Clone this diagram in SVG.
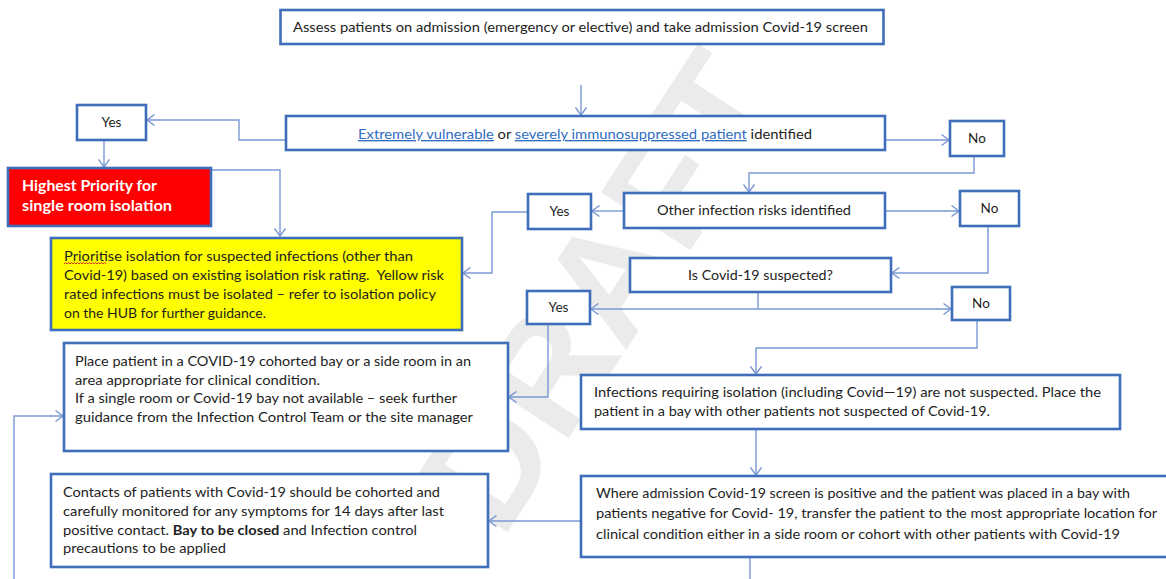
<svg xmlns="http://www.w3.org/2000/svg" width="1166" height="579" viewBox="0 0 1166 579">
<style>
.box{fill:#fff;stroke:#3e6db9;stroke-width:2.6}
.conn{fill:none;stroke:#7b98d3;stroke-width:1.4}
.t{font-family:Lato,"Liberation Sans",sans-serif;font-size:13.5px;fill:#1e1e1e}
.c{text-anchor:middle}
.lnk{fill:#2f6cbf;text-decoration:underline}
.wm{font-family:"Liberation Sans",Arial,sans-serif;font-weight:bold;font-size:155px;fill:#ebebeb}
</style>
<defs>
<marker id="ah" markerUnits="userSpaceOnUse" markerWidth="10" markerHeight="12" refX="8.5" refY="6" orient="auto">
<path d="M1,0.5 L8.5,6 L1,11.5" fill="none" stroke="#7b98d3" stroke-width="1.4"/>
</marker>
</defs>
<rect width="1166" height="579" fill="#fff"/>
<g id="watermark" transform="translate(598,290) rotate(-57)">
<text class="wm" x="0" y="56" text-anchor="middle">DRAFT</text>
</g>
<g id="connectors">
<path class="conn" d="M581,85 V115" marker-end="url(#ah)"/>
<path class="conn" d="M286,140 H239 V120 H147" marker-end="url(#ah)"/>
<path class="conn" d="M104,140 V167" marker-end="url(#ah)"/>
<path class="conn" d="M211,170 H280 V236" marker-end="url(#ah)"/>
<path class="conn" d="M885,140 H949" marker-end="url(#ah)"/>
<path class="conn" d="M974,156 V173 H749 V192" marker-end="url(#ah)"/>
<path class="conn" d="M624,211 H592" marker-end="url(#ah)"/>
<path class="conn" d="M885,211 H959" marker-end="url(#ah)"/>
<path class="conn" d="M528,212 H492 V273 H463" marker-end="url(#ah)"/>
<path class="conn" d="M988,226 V273 H892" marker-end="url(#ah)"/>
<path class="conn" d="M758,292 V309"/>
<path class="conn" d="M758,309 H591" marker-end="url(#ah)"/>
<path class="conn" d="M758,309 H951" marker-end="url(#ah)"/>
<path class="conn" d="M548,324 V397 H509" marker-end="url(#ah)"/>
<path class="conn" d="M977,320 V348 H756 V374" marker-end="url(#ah)"/>
<path class="conn" d="M756,429 V475" marker-end="url(#ah)"/>
<path class="conn" d="M581,521 H489" marker-end="url(#ah)"/>
<path class="conn" d="M750,557 V579"/>
<path class="conn" d="M14,579 V416 H63" marker-end="url(#ah)"/>
</g>
<g id="assess">
<rect class="box" x="280.5" y="10" width="603" height="34"/>
<text class="t" x="293" y="32" textLength="575" lengthAdjust="spacingAndGlyphs">Assess patients on admission (emergency or elective) and take admission Covid-19 screen</text>
</g>
<g id="vulnerable">
<rect class="box" x="286" y="116" width="599" height="34"/>
<text class="t" x="358" y="139" textLength="454" lengthAdjust="spacingAndGlyphs"><tspan class="lnk">Extremely vulnerable</tspan> or <tspan class="lnk">severely immunosuppressed patient</tspan> identified</text>
</g>
<g id="yes1">
<rect class="box" x="77" y="105" width="69" height="35"/>
<text class="t c" x="111.5" y="127">Yes</text>
</g>
<g id="highest">
<rect x="8" y="168" width="203" height="58" fill="#ff0000" stroke="#3e6db9" stroke-width="2.6"/>
<text class="t" x="22" y="191" style="font-weight:bold;font-size:15px;fill:#fff" textLength="135" lengthAdjust="spacingAndGlyphs">Highest Priority for</text>
<text class="t" x="22" y="211" style="font-weight:bold;font-size:15px;fill:#fff" textLength="150" lengthAdjust="spacingAndGlyphs">single room isolation</text>
</g>
<g id="prioritise">
<rect class="box" x="51" y="238" width="411" height="92" style="fill:#ffff00"/>
<text class="t" x="64" y="261" textLength="349" lengthAdjust="spacingAndGlyphs">Prioritise isolation for suspected infections (other than</text>
<text class="t" x="64" y="280" textLength="380" lengthAdjust="spacingAndGlyphs">Covid-19) based on existing isolation risk rating.&#160; Yellow risk</text>
<text class="t" x="64" y="299" textLength="372" lengthAdjust="spacingAndGlyphs">rated infections must be isolated – refer to isolation policy</text>
<text class="t" x="64" y="318" textLength="202" lengthAdjust="spacingAndGlyphs">on the HUB for further guidance.</text>
<path d="M64,264 l1.5,-1.5 l1.5,1.5 l1.5,-1.5 l1.5,1.5 l1.5,-1.5 l1.5,1.5 l1.5,-1.5 l1.5,1.5 l1.5,-1.5 l1.5,1.5 l1.5,-1.5 l1.5,1.5 l1.5,-1.5 l1.5,1.5 l1.5,-1.5 l1.5,1.5 l1.5,-1.5 l1.5,1.5 l1.5,-1.5 l1.5,1.5 l1.5,-1.5 l1.5,1.5 l1.5,-1.5 l1.5,1.5 l1.5,-1.5 l1.5,1.5 l1.5,-1.5 l1.5,1.5" fill="none" stroke="#e02020" stroke-width="0.9"/>
</g>
<g id="no1">
<rect class="box" x="950" y="121" width="54" height="35"/>
<text class="t c" x="977" y="143">No</text>
</g>
<g id="other">
<rect class="box" x="624" y="193" width="261" height="35"/>
<text class="t" x="657" y="215" textLength="194" lengthAdjust="spacingAndGlyphs">Other infection risks identified</text>
</g>
<g id="yes2">
<rect class="box" x="528" y="194" width="63" height="35"/>
<text class="t c" x="559.5" y="216">Yes</text>
</g>
<g id="no2">
<rect class="box" x="960" y="191" width="59" height="35"/>
<text class="t c" x="989.5" y="213">No</text>
</g>
<g id="iscovid">
<rect class="box" x="630" y="258" width="261" height="34"/>
<text class="t" x="688" y="280" textLength="145" lengthAdjust="spacingAndGlyphs">Is Covid-19 suspected?</text>
</g>
<g id="yes3">
<rect class="box" x="527" y="291" width="63" height="33"/>
<text class="t c" x="558.5" y="312">Yes</text>
</g>
<g id="no3">
<rect class="box" x="952" y="287" width="58" height="33"/>
<text class="t c" x="981" y="308">No</text>
</g>
<g id="place">
<rect class="box" x="64" y="343" width="444" height="108"/>
<text class="t" x="75" y="366" textLength="396" lengthAdjust="spacingAndGlyphs">Place patient in a COVID-19 cohorted bay or a side room in an</text>
<text class="t" x="75" y="384.5" textLength="245" lengthAdjust="spacingAndGlyphs">area appropriate for clinical condition.</text>
<text class="t" x="75" y="403" textLength="382" lengthAdjust="spacingAndGlyphs">If a single room or Covid-19 bay not available – seek further</text>
<text class="t" x="75" y="421.5" textLength="398" lengthAdjust="spacingAndGlyphs">guidance from the Infection Control Team or the site manager</text>
</g>
<g id="notsuspected">
<rect class="box" x="581" y="375" width="539" height="54"/>
<text class="t" x="594" y="397" textLength="507" lengthAdjust="spacingAndGlyphs">Infections requiring isolation (including Covid—19) are not suspected. Place the</text>
<text class="t" x="594" y="416" textLength="396" lengthAdjust="spacingAndGlyphs">patient in a bay with other patients not suspected of Covid-19.</text>
</g>
<g id="positive">
<rect class="box" x="581" y="476" width="600" height="81"/>
<text class="t" x="596" y="498" textLength="534" lengthAdjust="spacingAndGlyphs">Where admission Covid-19 screen is positive and the patient was placed in a bay with</text>
<text class="t" x="596" y="518" textLength="561" lengthAdjust="spacingAndGlyphs">patients negative for Covid- 19, transfer the patient to the most appropriate location for</text>
<text class="t" x="596" y="538.5" textLength="524" lengthAdjust="spacingAndGlyphs">clinical condition either in a side room or cohort with other patients with Covid-19</text>
</g>
<g id="contacts">
<rect class="box" x="51" y="474" width="437" height="93"/>
<text class="t" x="63" y="497" textLength="377" lengthAdjust="spacingAndGlyphs">Contacts of patients with Covid-19 should be cohorted and</text>
<text class="t" x="63" y="516" textLength="381" lengthAdjust="spacingAndGlyphs">carefully monitored for any symptoms for 14 days after last</text>
<text class="t" x="63" y="534.5" textLength="354" lengthAdjust="spacingAndGlyphs">positive contact. <tspan style="font-weight:bold">Bay to be closed</tspan> and Infection control</text>
<text class="t" x="63" y="553" textLength="163" lengthAdjust="spacingAndGlyphs">precautions to be applied</text>
</g>
</svg>
